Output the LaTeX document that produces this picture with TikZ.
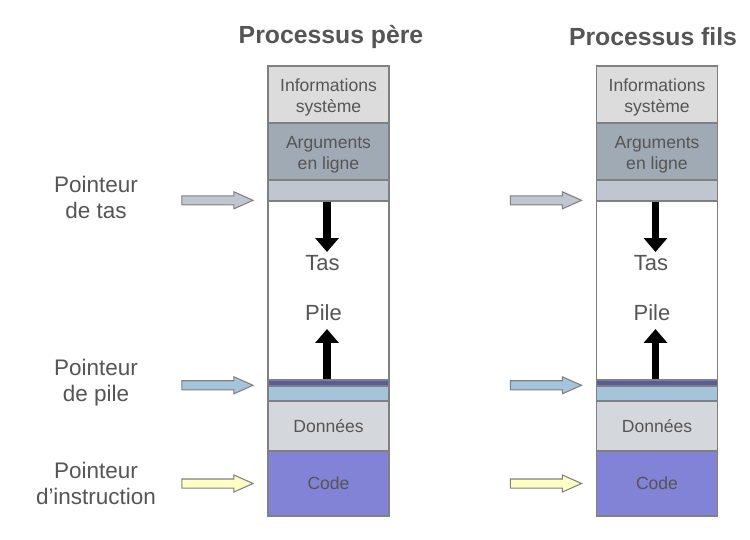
\documentclass[tikz,border=0pt]{standalone}
\usepackage{fontspec}
\setmainfont{Liberation Sans}
\usetikzlibrary{arrows.meta,positioning,shapes.arrows}
\definecolor{txt}{HTML}{555555}
\definecolor{edge}{HTML}{808080}
\definecolor{infoc}{HTML}{DCDCDC}
\definecolor{argsc}{HTML}{A0AAB4}
\definecolor{bandc}{HTML}{BFC6D0}
\definecolor{stkc}{HTML}{5A5A9E}
\definecolor{spc}{HTML}{A4C4DC}
\definecolor{datac}{HTML}{D4D8DC}
\definecolor{codec}{HTML}{8282D6}
\definecolor{ipc}{HTML}{FFFFC4}
\tikzset{
  seg/.style={draw=edge, line width=0.8pt, rectangle, minimum width=2.42cm, inner sep=0pt,
    align=center, font=\fontsize{10}{12}\selectfont, text=txt},
  two/.style={seg, text height=22.5pt},
  ptr/.style={draw=edge, line width=0.6pt, single arrow, inner xsep=0.6cm, inner ysep=0.08cm,
    minimum size=0pt, single arrow head extend=0.08cm, single arrow tip angle=48},
  lbl/.style={align=center, font=\fontsize{12.8}{14.8}\selectfont, text=txt},
  ttl/.style={font=\fontsize{14.1}{16}\selectfont\bfseries, text=txt},
  big/.style={font=\fontsize{12.5}{14}\selectfont, text=txt},
  growarr/.style={line width=4pt, -{Triangle[width=0.46cm, length=0.28cm]}}
}
\begin{document}
\begin{tikzpicture}[x=0.02cm, y=-0.02cm]
\useasboundingbox (0,0) rectangle (750,540);
\node[ttl] (tp) at (331,37) {Processus père};
\node[ttl] (tf) at (653,37) {Processus fils};
% the two memory images
\foreach \c/\x in {p/328.5, f/657} {
  \node[two, fill=infoc, minimum height=1.14cm] (\c-info) at (\x,94.5) {Informations\\système};
  \node[two, fill=argsc, minimum height=1.14cm] (\c-args) at (\x,151.5) {Arguments\\en ligne};
  \node[seg, fill=bandc, minimum height=0.42cm] (\c-band) at (\x,190.5) {};
  \node[seg, fill=white, minimum height=3.58cm] (\c-free) at (\x,290.5) {};
  \node[seg, fill=stkc, minimum height=0.12cm] (\c-stk) at (\x,383) {};
  \node[seg, fill=spc, minimum height=0.30cm] (\c-sp) at (\x,393.5) {};
  \node[seg, fill=datac, minimum height=1.0cm] (\c-data) at (\x,426) {Données};
  \node[seg, fill=codec, minimum height=1.3cm] (\c-code) at (\x,483.5) {Code};
  \node[big] (\c-tas) at (\x-6,263) {Tas};
  \node[big] (\c-pile) at (\x-5,313) {Pile};
  \coordinate (\c-hp) at (\x-1.5,252);
  \coordinate (\c-sp0) at (\x-1.5,329);
  \draw[growarr] (\c-band.south -| \c-hp) -- (\c-hp);
  \draw[growarr] (\c-stk.north -| \c-sp0) -- (\c-sp0);
  \node[ptr, fill=bandc, anchor=tip] (\c-ptas) at ([xshift=-0.26cm]\c-free.north west) {};
  \node[ptr, fill=spc, anchor=tip] (\c-ppile) at ([xshift=-0.26cm]\c-sp.north west) {};
  \node[ptr, fill=ipc, anchor=tip] (\c-pip) at ([xshift=-0.26cm]\c-code.west) {};
}
\node[lbl] (ltas) at (96,197) {Pointeur\\de tas};
\node[lbl] (lpile) at (96,383) {Pointeur\\de pile};
\node[lbl] (lip) at (96,483) {Pointeur\\d’instruction};
\end{tikzpicture}
\end{document}
